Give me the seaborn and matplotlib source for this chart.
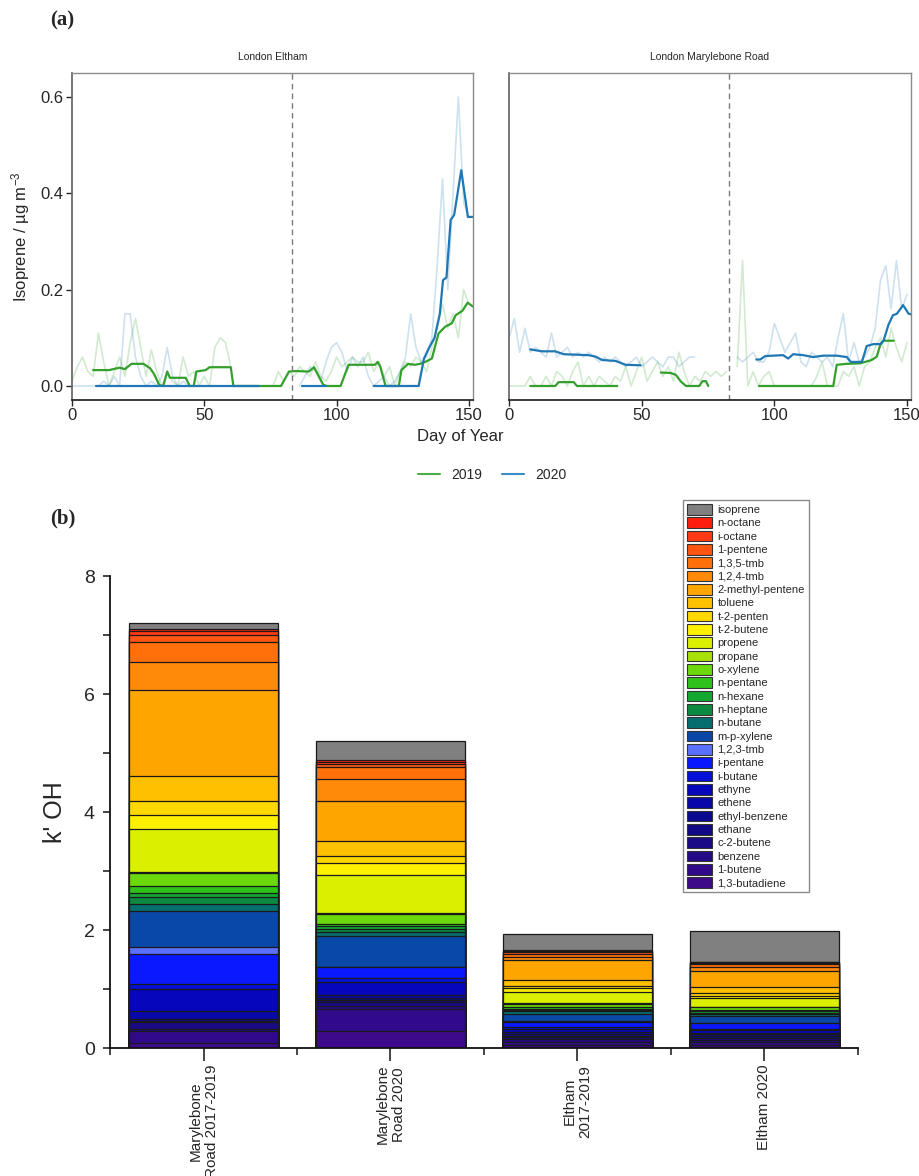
import numpy as np
import pandas as pd
import matplotlib
matplotlib.use("Agg")
import matplotlib.pyplot as plt
import seaborn as sns
from matplotlib.patches import Patch
from matplotlib.lines import Line2D
from matplotlib.ticker import MultipleLocator, FormatStrFormatter, FixedLocator

# ---------------------------------------------------------------- data (a)
# raw daily series, sampled every 2 days starting at day 0 (nan = no data)
eltham_2019_raw = [0.01, 0.04, 0.06, 0.03, 0.02, 0.11, 0.05, 0.0, 0.03, 0.06,
                   0.02, 0.09, 0.14, 0.08, 0.02, 0.075, 0.03, 0.0, 0.03, 0.01,
                   0.0, 0.06, 0.02, 0.03, 0.0, 0.02, 0.0, 0.08, 0.10, 0.09,
                   0.04, np.nan, np.nan, np.nan, np.nan, np.nan, np.nan, np.nan, 0.0, 0.03,
                   0.01, 0.03, 0.02, 0.04, 0.03, 0.02, 0.05, 0.02, 0.01, 0.03,
                   0.06, 0.04, 0.05, 0.06, 0.05, 0.05, 0.07, 0.03, 0.05, 0.02,
                   0.04, 0.0, 0.03, 0.05, 0.04, 0.06, 0.05, 0.03, 0.08, 0.12,
                   0.17, 0.12, 0.15, 0.10, 0.20, 0.17]
eltham_2020_raw = [0.0, 0.0, 0.0, 0.0, 0.0, 0.0, 0.01, 0.0, 0.02, 0.0,
                   0.15, 0.15, 0.06, 0.02, 0.0, 0.01, 0.0, 0.02, 0.08, 0.02,
                   0.0, 0.01, 0.0, 0.0, 0.0, 0.0, 0.0, 0.0, 0.0, 0.0,
                   np.nan, np.nan, np.nan, np.nan, np.nan, np.nan, np.nan, np.nan, np.nan, np.nan,
                   np.nan, np.nan, np.nan, 0.0, 0.02, 0.04, 0.03, 0.01, 0.05, 0.08,
                   0.09, 0.07, 0.03, 0.06, 0.04, 0.06, 0.02, 0.0, 0.01, 0.02,
                   0.0, 0.01, 0.03, 0.06, 0.15, 0.08, 0.05, 0.06, 0.10, 0.25,
                   0.43, 0.20, 0.40, 0.60, 0.38, 0.35]
mary_2019_raw = [0.0, 0.0, 0.0, 0.0, 0.02, 0.0, 0.0, 0.02, 0.0, 0.03,
                 0.02, 0.0, 0.03, 0.05, 0.0, 0.02, 0.0, 0.02, 0.01, 0.0,
                 0.02, 0.01, 0.04, 0.0, 0.03, 0.06, 0.01, 0.03, 0.05, 0.02,
                 0.04, 0.01, 0.07, 0.03, 0.0, 0.02, 0.01, 0.03, 0.02, 0.03,
                 0.02, 0.03, np.nan, 0.04, 0.26, 0.0, 0.03, 0.0, 0.02, 0.03,
                 0.0, 0.0, 0.0, 0.0, 0.0, 0.0, 0.0, 0.0, 0.02, 0.05,
                 0.0, 0.0, 0.0, 0.03, 0.02, 0.04, 0.0, 0.04, 0.05, 0.08,
                 0.10, 0.06, 0.12, 0.08, 0.05, 0.09]
mary_2020_raw = [0.10, 0.14, 0.07, 0.12, 0.07, 0.08, 0.07, 0.06, 0.11, 0.06,
                 0.07, 0.08, 0.06, 0.07, 0.06, 0.07, 0.06, 0.05, 0.06, 0.05,
                 0.06, 0.05, 0.04, 0.05, 0.06, 0.04, 0.05, 0.06, 0.05, 0.04,
                 0.06, 0.06, 0.04, 0.05, 0.06, 0.06, np.nan, np.nan, np.nan, np.nan,
                 np.nan, np.nan, np.nan, 0.06, 0.05, 0.06, 0.07, 0.05, 0.05, 0.07,
                 0.13, 0.10, 0.07, 0.09, 0.11, 0.05, 0.04, 0.07, 0.06, 0.05,
                 0.06, 0.04, 0.10, 0.15, 0.05, 0.09, 0.05, 0.06, 0.08, 0.12,
                 0.22, 0.25, 0.16, 0.26, 0.16, 0.19]

# rolling-mean series as (day, value); nan value = break in the line
eltham_2019_smooth = [(8, 0.033), (14, 0.033), (18, 0.038), (20, 0.035), (22.5, 0.046),
                      (27, 0.046), (29.5, 0.037), (31, 0.025), (33, 0.002), (34.5, 0.0),
                      (36, 0.03), (37, 0.017), (43, 0.017), (44.5, 0.0), (46, 0.0),
                      (47, 0.03), (50.5, 0.033), (52, 0.039), (60, 0.039), (61, 0.0),
                      (79, 0.0), (82, 0.030), (84.5, 0.031), (89.5, 0.030), (91.5, 0.039),
                      (93, 0.023), (95, 0.002), (96.5, 0.0), (101.5, 0.0), (104.5, 0.044),
                      (114.5, 0.044), (115.5, 0.05), (116.5, 0.04), (117, 0.03), (118.5, 0.0),
                      (123.5, 0.0), (124.5, 0.033), (127, 0.046), (129.5, 0.044), (131.5, 0.046),
                      (133.5, 0.05), (136, 0.057), (137, 0.078), (138.5, 0.109), (141, 0.123),
                      (143.5, 0.13), (145, 0.147), (147.5, 0.156), (149.5, 0.173), (151.5, 0.165)]
eltham_2020_smooth = [(9, 0.0), (70.5, 0.0), (71, np.nan), (87, 0.0), (96, 0.0), (97, np.nan),
                      (114, 0.0), (131, 0.0), (133, 0.057), (135, 0.08), (137, 0.10),
                      (139, 0.15), (140.2, 0.22), (141.5, 0.225), (143.1, 0.345), (144.4, 0.355),
                      (147.1, 0.448), (149.6, 0.351), (151.5, 0.351)]
mary_2019_smooth = [(8, 0.0), (17.4, 0.0), (18.7, 0.008), (24.4, 0.008), (25.6, 0.0), (40.8, 0.0),
                    (41, np.nan), (57.2, 0.028), (61, 0.027), (62.9, 0.023), (64.8, 0.009),
                    (66.7, 0.0), (71.7, 0.0), (72.9, 0.01), (74.2, 0.01), (75.1, 0.0),
                    (76, np.nan), (94.2, 0.0), (122.2, 0.0), (123.5, 0.044), (127.3, 0.046),
                    (132.3, 0.047), (136.7, 0.054), (138.6, 0.061), (139.9, 0.085),
                    (141.2, 0.094), (145, 0.094)]
mary_2020_smooth = [(8, 0.076), (12.4, 0.072), (17.4, 0.072), (20.6, 0.066), (30, 0.064),
                    (32.6, 0.061), (35.1, 0.054), (40.2, 0.052), (42, 0.048), (44, 0.044),
                    (49.6, 0.043), (50, np.nan), (93.2, 0.055), (94.7, 0.055), (96.5, 0.062),
                    (99.5, 0.063), (103.3, 0.064), (105.2, 0.057), (107.1, 0.066),
                    (110.9, 0.064), (114.6, 0.06), (118.4, 0.063), (123.5, 0.063),
                    (127.3, 0.06), (128.8, 0.05), (133, 0.05), (134.8, 0.083),
                    (137.4, 0.087), (139.9, 0.087), (141.2, 0.095), (143, 0.127),
                    (144.7, 0.147), (146.2, 0.15), (148.5, 0.168), (150.6, 0.15), (151.5, 0.149)]
lockdown_day = 83
site_titles = ["London Eltham", "London Marylebone Road"]
year_labels = ["2019", "2020"]

# ---------------------------------------------------------------- data (b)
bar_categories = ["Marylebone\nRoad 2017-2019", "Marylebone\nRoad 2020",
                  "Eltham\n2017-2019", "Eltham 2020"]
species = ['1,3-butadiene', '1-butene', 'benzene', 'c-2-butene', 'ethane', 'ethyl-benzene',
           'ethene', 'ethyne', 'i-butane', 'i-pentane', '1,2,3-tmb', 'm-p-xylene', 'n-butane',
           'n-heptane', 'n-hexane', 'n-pentane', 'o-xylene', 'propane', 'propene', 't-2-butene',
           't-2-penten', 'toluene', '2-methyl-pentene', '1,2,4-tmb', '1,3,5-tmb', '1-pentene',
           'i-octane', 'n-octane', 'isoprene']
species_colors = ['#3d0a8c', '#300a8a', '#250a88', '#1a0a86', '#100a84', '#0a0a90',
                  '#0808a8', '#0606bc', '#0410d8', '#0a18ff', '#5a70ff', '#0a48a8', '#066e6e',
                  '#0a8a40', '#12a832', '#2ec21a', '#6ad80a', '#a8e00a', '#daf000', '#fff000',
                  '#ffd800', '#ffc000', '#ffa500', '#ff8a0a', '#ff700a', '#ff5510',
                  '#ff3a14', '#ff1e0e', '#808080']
kOH_mary_2017_2019 = [0.09, 0.20, 0.04, 0.11, 0.02, 0.04, 0.12, 0.38, 0.08, 0.51, 0.13, 0.60, 0.12,
                      0.12, 0.06, 0.13, 0.21, 0.02, 0.73, 0.24, 0.24, 0.42, 1.46, 0.48, 0.34, 0.11,
                      0.06, 0.04, 0.11]
kOH_mary_2020 = [0.29, 0.38, 0.05, 0.06, 0.03, 0.03, 0.06, 0.22, 0.06, 0.19, 0.01, 0.52, 0.07,
                 0.04, 0.05, 0.05, 0.16, 0.02, 0.64, 0.21, 0.11, 0.26, 0.68, 0.37, 0.21, 0.04,
                 0.04, 0.04, 0.31]
kOH_eltham_2017_2019 = [0.05, 0.06, 0.04, 0.03, 0.03, 0.02, 0.04, 0.06, 0.03, 0.08, 0.01, 0.13, 0.04,
                        0.03, 0.02, 0.03, 0.05, 0.01, 0.19, 0.07, 0.04, 0.09, 0.34, 0.06, 0.05, 0.03,
                        0.02, 0.02, 0.27]
kOH_eltham_2020 = [0.05, 0.06, 0.03, 0.03, 0.04, 0.02, 0.03, 0.04, 0.03, 0.09, 0.01, 0.12, 0.03,
                   0.02, 0.02, 0.03, 0.04, 0.01, 0.14, 0.04, 0.05, 0.10, 0.28, 0.06, 0.05, 0.02,
                   0.01, 0.01, 0.53]

# ---------------------------------------------------------------- style
sns.set_theme(style="ticks")
plt.rcParams['font.family'] = ['Liberation Sans', 'DejaVu Sans']
plt.rcParams['mathtext.default'] = 'regular'

C19, C20 = '#33a02c', '#1f78b4'

fig = plt.figure(figsize=(9.19, 11.76), dpi=100)
ax1 = fig.add_axes([0.0783, 0.6599, 0.4363, 0.2781])
ax2 = fig.add_axes([0.5539, 0.6599, 0.4374, 0.2781])
ax3 = fig.add_axes([0.1197, 0.1088, 0.8139, 0.4014])


def draw_series(ax, days, vals, color, lw, alpha):
    seg_d, seg_v = [], []
    segments = []
    for d, v in zip(days, vals):
        if np.isnan(v):
            if seg_d:
                segments.append((seg_d, seg_v))
            seg_d, seg_v = [], []
        else:
            seg_d.append(d)
            seg_v.append(v)
    if seg_d:
        segments.append((seg_d, seg_v))
    for sd, sv in segments:
        if len(sd) < 2:
            continue
        sns.lineplot(x=sd, y=sv, ax=ax, color=color, lw=lw, alpha=alpha,
                     estimator=None, sort=False, legend=False)


panels = [(ax1, eltham_2019_raw, eltham_2020_raw, eltham_2019_smooth, eltham_2020_smooth),
          (ax2, mary_2019_raw, mary_2020_raw, mary_2019_smooth, mary_2020_smooth)]
for i, (ax, r19, r20, s19, s20) in enumerate(panels):
    d19 = np.arange(0, 2 * len(r19), 2)
    d20 = np.arange(0, 2 * len(r20), 2)
    draw_series(ax, d19, r19, C19, 1.2, 0.22)
    draw_series(ax, d20, r20, C20, 1.2, 0.22)
    sd, sv = zip(*s19)
    draw_series(ax, sd, sv, C19, 1.6, 1.0)
    sd, sv = zip(*s20)
    draw_series(ax, sd, sv, C20, 1.6, 1.0)
    ax.axvline(lockdown_day, color='#7a7a7a', lw=1.0, ls=(0, (4, 3)))
    ax.set_xlim(0, 151.5)
    ax.set_ylim(-0.029, 0.65)
    ax.set_xticks([0, 50, 100, 150])
    ax.set_yticks([0.0, 0.2, 0.4, 0.6])
    ax.yaxis.set_major_formatter(FormatStrFormatter('%.1f'))
    ax.set_title(site_titles[i], fontsize=7.5, pad=9)
    ax.set_xlabel('')
    ax.set_ylabel('')
    for sp in ['top', 'right']:
        ax.spines[sp].set_visible(True)
        ax.spines[sp].set_color('#8a8a8a')
        ax.spines[sp].set_linewidth(1.0)
    ax.spines['left'].set_color('#666666')
    ax.spines['bottom'].set_color('#222222')
    ax.tick_params(axis='x', direction='out', length=4, width=1, labelsize=12, pad=2)
    ax.tick_params(axis='y', direction='out', length=4, width=1, labelsize=12, pad=2)

ax2.tick_params(axis='y', left=False, labelleft=False)
ax1.set_ylabel('Isoprene / µg m$^{-3}$', fontsize=12, labelpad=6)

fig.text(460 / 919, 1 - 436 / 1176, 'Day of Year', ha='center', va='center', fontsize=12)
leg_handles = [Line2D([0], [0], color='#4cae46', lw=1.5),
               Line2D([0], [0], color='#3a8cc4', lw=1.5)]
fig.legend(leg_handles, year_labels, loc='center', bbox_to_anchor=(492 / 919, 1 - 475 / 1176),
           ncol=2, frameon=False, fontsize=10, handlelength=1.6, columnspacing=1.4,
           handletextpad=0.8)

fig.text(50 / 919, 1 - 20 / 1176, '(a)', fontfamily='Liberation Serif', fontweight='bold',
         fontsize=15, va='center', ha='left')
fig.text(50 / 919, 1 - 518 / 1176, '(b)', fontfamily='Liberation Serif', fontweight='bold',
         fontsize=15, va='center', ha='left')

# ---------------------------------------------------------------- stacked bars
layers = np.array([kOH_mary_2017_2019, kOH_mary_2020, kOH_eltham_2017_2019, kOH_eltham_2020]).T
cum = np.cumsum(layers, axis=0)
for k in range(len(species) - 1, -1, -1):
    df = pd.DataFrame({'cat': bar_categories, 'val': cum[k]})
    sns.barplot(data=df, x='cat', y='val', order=bar_categories, color=species_colors[k],
                saturation=1, width=0.8, edgecolor='#1a1a1a', linewidth=0.9, ax=ax3)

ax3.set_xlim(-0.5, 3.5)
ax3.set_ylim(0, 8)
ax3.set_xlabel('')
ax3.set_ylabel("k' OH", fontsize=18, labelpad=12)
ax3.yaxis.set_major_locator(MultipleLocator(2))
ax3.yaxis.set_minor_locator(MultipleLocator(1))
ax3.yaxis.set_major_formatter(FormatStrFormatter('%d'))
ax3.xaxis.set_major_locator(FixedLocator([0, 1, 2, 3]))
ax3.xaxis.set_minor_locator(FixedLocator([-0.5, 0.5, 1.5, 2.5, 3.5]))
ax3.set_xticklabels(bar_categories, rotation=90, fontsize=11, ha='center', va='top')
ax3.tick_params(axis='x', which='major', direction='out', length=9, width=1.2, pad=3)
ax3.tick_params(axis='x', which='minor', direction='out', length=5, width=1.2)
ax3.tick_params(axis='y', which='major', direction='out', length=5, width=1.2, labelsize=14, pad=6)
ax3.tick_params(axis='y', which='minor', direction='out', length=5, width=1.2)
for sp in ['top', 'right']:
    ax3.spines[sp].set_visible(False)
for sp in ['left', 'bottom']:
    ax3.spines[sp].set_color('#111111')
    ax3.spines[sp].set_linewidth(1.3)

handles = [Patch(facecolor=species_colors[k], edgecolor='#333333', linewidth=0.8)
           for k in range(len(species) - 1, -1, -1)]
labels = [species[k] for k in range(len(species) - 1, -1, -1)]
leg = fig.legend(handles, labels, loc='upper left', bbox_to_anchor=(683 / 919, 1 - 500 / 1176),
                 fontsize=8, frameon=True, fancybox=False, framealpha=1, edgecolor='#8a8a8a',
                 borderpad=0.35, labelspacing=0.2, handlelength=2.3, handleheight=1.1,
                 handletextpad=0.45, borderaxespad=0)
leg.get_frame().set_linewidth(1.0)

fig.savefig('out.png', dpi=100)
